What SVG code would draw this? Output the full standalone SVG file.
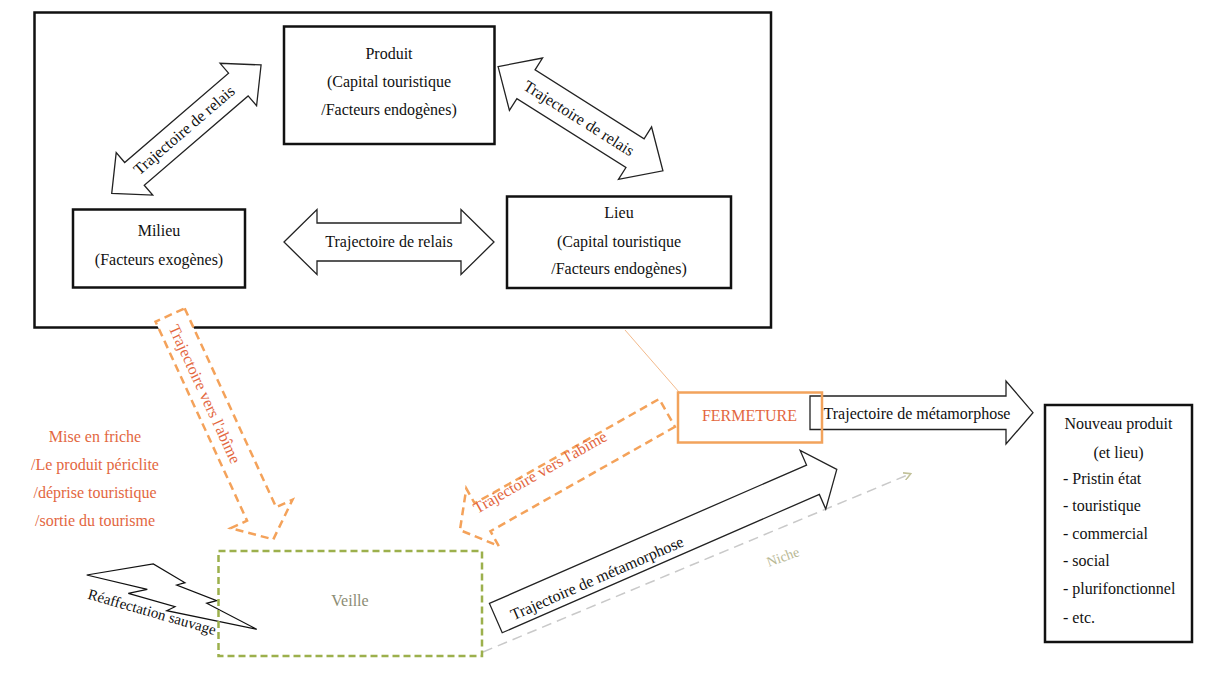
<svg xmlns="http://www.w3.org/2000/svg" width="1214" height="677" viewBox="0 0 1214 677">
<defs>
<style>
text{font-family:"Liberation Serif","Times New Roman",serif;font-size:16px;fill:#111;}
.c{text-anchor:middle;dominant-baseline:central;}
.l{text-anchor:start;dominant-baseline:central;}
.box{fill:#fff;stroke:#111;stroke-width:2.5;}
.arr{fill:#fff;stroke:#222;stroke-width:1.3;stroke-linejoin:miter;}
.oarr{fill:#fff;stroke:#F4A25A;stroke-width:2.5;stroke-dasharray:8 5;}
.otxt{fill:#E3673F;}
</style>
<marker id="niche" viewBox="0 0 10 10" refX="8" refY="5" markerWidth="8" markerHeight="8" orient="auto" markerUnits="userSpaceOnUse">
<path d="M0,0 L9,5 L0,10" fill="none" stroke="#C2C29A" stroke-width="2"/>
</marker>
</defs>
<rect width="1214" height="677" fill="#fff"/>

<g id="outer">
<rect x="34.5" y="12.5" width="736.5" height="315" fill="#fff" stroke="#111" stroke-width="2.5"/>
</g>

<g id="connectors">
<path class="arr" transform="translate(186.4,129.2) rotate(-40.7)" d="M-98.5,0 L-68.5,-28 L-68.5,-15 L68.5,-15 L68.5,-28 L98.5,0 L68.5,28 L68.5,15 L-68.5,15 L-68.5,28 Z"/>
<text class="c" transform="translate(184,130) rotate(-40.7)">Trajectoire de relais</text>
<path class="arr" transform="translate(580.5,118.7) rotate(32.3)" d="M-97.5,0 L-64.5,-31 L-64.5,-17 L64.5,-17 L64.5,-31 L97.5,0 L64.5,31 L64.5,17 L-64.5,17 L-64.5,31 Z"/>
<text class="c" transform="translate(579,118) rotate(32.3)">Trajectoire de relais</text>
<path class="arr" transform="translate(389,242)" d="M-105,0 L-72,-32.5 L-72,-19 L72,-19 L72,-32.5 L105,0 L72,32.5 L72,19 L-72,19 L-72,32.5 Z"/>
<text class="c" x="389" y="241">Trajectoire de relais</text>

<line x1="625" y1="330" x2="679" y2="392" stroke="#F3BA8C" stroke-width="1"/>

<path class="oarr" transform="translate(221.7,427.2) rotate(65.3)" d="M-123.5,-16 L95.5,-16 L95.5,-34 L123.5,0 L95.5,34 L95.5,16 L-123.5,16 Z"/>
<text class="c otxt" transform="translate(205,394) rotate(65.3)">Trajectoire vers l'abîme</text>
<path class="oarr" transform="translate(563.5,471.5) rotate(150.5)" d="M-119,-16 L93,-16 L93,-33 L119,0 L93,33 L93,16 L-119,16 Z"/>
<text class="c otxt" transform="translate(540,472) rotate(-29.5)">Trajectoire vers l'abîme</text>

<line x1="483" y1="652" x2="910" y2="474" stroke="#C9C9C9" stroke-width="1.5" stroke-dasharray="10 6" marker-end="url(#niche)"/>
<text class="c" fill="#B9B995" style="fill:#B9B995;font-size:14px" transform="translate(783,557) rotate(-20)">Niche</text>

<path class="arr" transform="translate(666.3,543.7) rotate(-23.57)" d="M-186,-16 L160,-16 L160,-32 L186,0 L160,32 L160,16 L-186,16 Z"/>
<text class="c" transform="translate(597,578) rotate(-23.6)">Trajectoire de métamorphose</text>

<path class="arr" d="M810,396 L1006,396 L1006,381 L1033,412.7 L1006,444 L1006,429.5 L810,429.5 Z"/>
<text class="c" x="917" y="413">Trajectoire de métamorphose</text>

<polygon points="86.7,575 153.3,564 185,582.7 176.7,585 216.7,600.7 206.7,603.3 256.7,629.3 166.7,610.7 175,606.7 128.3,593.3 147.3,589.3" fill="none" stroke="#111" stroke-width="1.2"/>
<text class="c" style="font-size:15px" transform="translate(152,612) rotate(16)">Réaffectation sauvage</text>
</g>

<g id="produit">
<rect class="box" x="284" y="26.5" width="210.5" height="117.5"/>
<text class="c" x="389" y="53">Produit</text>
<text class="c" x="389" y="81">(Capital touristique</text>
<text class="c" x="389" y="109">/Facteurs endogènes)</text>
</g>

<g id="milieu">
<rect class="box" x="73" y="209.5" width="172" height="78"/>
<text class="c" x="159" y="230">Milieu</text>
<text class="c" x="159" y="259">(Facteurs exogènes)</text>
</g>

<g id="lieu">
<rect class="box" x="507" y="196.5" width="224" height="91.5"/>
<text class="c" x="619" y="212.5">Lieu</text>
<text class="c" x="619" y="241">(Capital touristique</text>
<text class="c" x="619" y="268">/Facteurs endogènes)</text>
</g>

<g id="friche">
<text class="c otxt" x="95" y="436">Mise en friche</text>
<text class="c otxt" x="95" y="464">/Le produit périclite</text>
<text class="c otxt" x="95" y="492">/déprise touristique</text>
<text class="c otxt" x="95" y="520">/sortie du tourisme</text>
</g>

<g id="veille">
<rect x="218.5" y="551" width="263.5" height="105" fill="none" stroke="#9CB04C" stroke-width="2.5" stroke-dasharray="7 4"/>
<text class="c" x="350" y="600" style="fill:#8C8C74">Veille</text>
</g>

<g id="fermeture">
<rect x="678" y="392.5" width="144" height="50" fill="none" stroke="#F2A35C" stroke-width="2.5"/>
<text class="c otxt" x="749.5" y="415">FERMETURE</text>
</g>

<g id="nouveau">
<rect class="box" x="1045" y="405" width="147" height="237"/>
<text class="c" x="1118.5" y="423">Nouveau produit</text>
<text class="c" x="1118.5" y="452">(et lieu)</text>
<text class="l" x="1063" y="478">- Pristin état</text>
<text class="l" x="1063" y="505">- touristique</text>
<text class="l" x="1063" y="533">- commercial</text>
<text class="l" x="1063" y="560">- social</text>
<text class="l" x="1063" y="588">- plurifonctionnel</text>
<text class="l" x="1063" y="617">- etc.</text>
</g>
</svg>
